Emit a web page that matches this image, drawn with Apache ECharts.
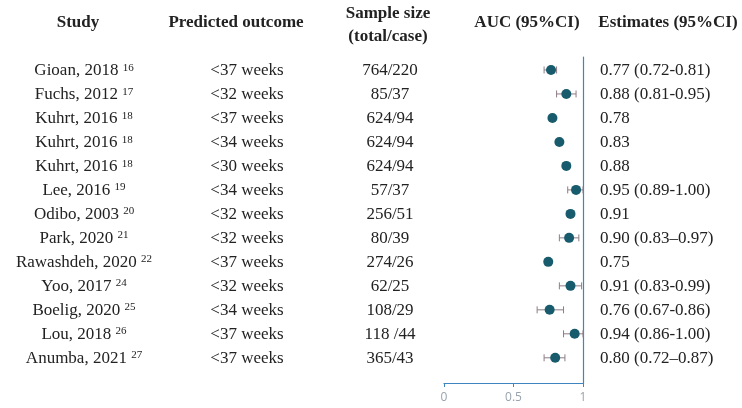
<!DOCTYPE html>
<html>
<head>
<meta charset="utf-8">
<script src="https://cdn.jsdelivr.net/npm/echarts@6/dist/echarts.min.js"></script>
<style>
  html, body { margin: 0; background: #fff; }
  #chart { width: 742px; height: 408px; }
</style>
</head>
<body>
<div id="chart"></div>
<script>
// forest plot data
const studies = ['Gioan, 2018', 'Fuchs, 2012', 'Kuhrt, 2016', 'Kuhrt, 2016', 'Kuhrt, 2016', 'Lee, 2016',
  'Odibo, 2003', 'Park, 2020', 'Rawashdeh, 2020', 'Yoo, 2017', 'Boelig, 2020', 'Lou, 2018', 'Anumba, 2021'];
const refs = [16, 17, 18, 18, 18, 19, 20, 21, 22, 24, 25, 26, 27];
const outcomes = ['<37 weeks', '<32 weeks', '<37 weeks', '<34 weeks', '<30 weeks', '<34 weeks',
  '<32 weeks', '<32 weeks', '<37 weeks', '<32 weeks', '<34 weeks', '<37 weeks', '<37 weeks'];
const samples = ['764/220', '85/37', '624/94', '624/94', '624/94', '57/37',
  '256/51', '80/39', '274/26', '62/25', '108/29', '118 /44', '365/43'];
const auc = [0.77, 0.88, 0.78, 0.83, 0.88, 0.95, 0.91, 0.90, 0.75, 0.91, 0.76, 0.94, 0.80];
const ciLow = [0.72, 0.81, null, null, null, 0.89, null, 0.83, null, 0.83, 0.67, 0.86, 0.72];
const ciHigh = [0.81, 0.95, null, null, null, 1.00, null, 0.97, null, 0.99, 0.86, 1.00, 0.87];
const estimates = ['0.77 (0.72-0.81)', '0.88 (0.81-0.95)', '0.78', '0.83', '0.88', '0.95 (0.89-1.00)',
  '0.91', '0.90 (0.83\u20130.97)', '0.75', '0.91 (0.83-0.99)', '0.76 (0.67-0.86)', '0.94 (0.86-1.00)',
  '0.80 (0.72\u20130.87)'];
const headers = [
  { text: 'Study', x: 78, y: 23 },
  { text: 'Predicted outcome', x: 236, y: 23 },
  { text: 'Sample size', x: 388, y: 14 },
  { text: '(total/case)', x: 388, y: 37 },
  { text: 'AUC (95%CI)', x: 527, y: 23 },
  { text: 'Estimates (95%CI)', x: 668, y: 23 }
];

const serif = '"Liberation Serif", "Times New Roman", serif';
const textColor = '#222';
const blue = '#3f86c0';
const dotColor = '#175b6c';
const whisker = '#8e7c86';

const chart = echarts.init(document.getElementById('chart'), null, { renderer: 'canvas' });

function textAxis(data, offset, align) {
  return {
    type: 'category',
    gridIndex: 1,
    data: data,
    inverse: true,
    position: 'left',
    offset: -offset,
    axisLine: { show: false },
    axisTick: { show: false },
    splitLine: { show: false },
    axisLabel: {
      margin: 0,
      interval: 0,
      align: align,
      color: textColor,
      fontFamily: serif,
      fontSize: 17
    }
  };
}

const studyAxis = textAxis(studies, 84, 'center');
studyAxis.axisLabel.formatter = (v, i) => '{n|' + v + '} {s|' + refs[i] + '}';
studyAxis.axisLabel.rich = {
  n: { fontFamily: serif, fontSize: 17, color: textColor },
  s: { fontFamily: serif, fontSize: 11, color: textColor, verticalAlign: 'top', padding: [0, 0, 3, 0] }
};

const ciData = [];
auc.forEach((v, i) => {
  if (ciLow[i] != null) ciData.push([ciLow[i], ciHigh[i], i]);
});

chart.setOption({
  backgroundColor: '#fff',
  animation: false,
  grid: [
    { left: 444, right: 159, top: 57, bottom: 25 },
    { left: 0, right: 0, top: 59, bottom: 38 }
  ],
  graphic: headers.map(h => ({
    type: 'text',
    x: h.x,
    y: h.y,
    style: {
      text: h.text,
      font: 'bold 17px ' + serif,
      fill: textColor,
      align: 'center',
      verticalAlign: 'middle',
      textAlign: 'center',
      textVerticalAlign: 'middle'
    }
  })),
  xAxis: [
    {
      type: 'value',
      gridIndex: 0,
      min: 0,
      max: 1,
      interval: 0.5,
      position: 'bottom',
      axisLine: { show: true, onZero: false, lineStyle: { color: blue, width: 1.2 } },
      axisTick: { show: true, length: 4, lineStyle: { color: blue } },
      axisLabel: { color: '#99a3ad', fontFamily: '"Open Sans", sans-serif', fontSize: 12, margin: 9 },
      splitLine: { show: false }
    },
    { type: 'value', gridIndex: 1, show: false }
  ],
  yAxis: [
    {
      type: 'value',
      gridIndex: 0,
      min: -0.54,
      max: 13.05,
      inverse: true,
      position: 'right',
      axisLine: { show: true, onZero: false, lineStyle: { color: blue, width: 1.2 } },
      axisTick: { show: false },
      axisLabel: { show: false },
      splitLine: { show: false }
    },
    studyAxis,
    textAxis(outcomes, 247, 'center'),
    textAxis(samples, 390, 'center'),
    textAxis(estimates, 600, 'left')
  ],
  series: [
    {
      type: 'custom',
      xAxisIndex: 0,
      yAxisIndex: 0,
      data: ciData,
      encode: { x: [0, 1], y: 2 },
      z: 2,
      renderItem: (params, api) => {
        const lo = api.coord([api.value(0), api.value(2)]);
        const hi = api.coord([api.value(1), api.value(2)]);
        const cap = 3.5;
        const style = { stroke: whisker, lineWidth: 1 };
        return {
          type: 'group',
          children: [
            { type: 'line', shape: { x1: lo[0], y1: lo[1], x2: hi[0], y2: hi[1] }, style },
            { type: 'line', shape: { x1: lo[0], y1: lo[1] - cap, x2: lo[0], y2: lo[1] + cap }, style },
            { type: 'line', shape: { x1: hi[0], y1: hi[1] - cap, x2: hi[0], y2: hi[1] + cap }, style }
          ]
        };
      }
    },
    {
      type: 'scatter',
      xAxisIndex: 0,
      yAxisIndex: 0,
      data: auc.map((v, i) => [v, i]),
      symbolSize: 10,
      itemStyle: { color: dotColor, opacity: 1 },
      z: 3
    }
  ]
});
</script>
</body>
</html>
